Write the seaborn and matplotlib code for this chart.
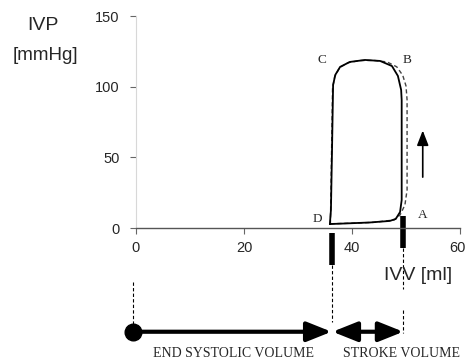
import numpy as np
import pandas as pd
import matplotlib
matplotlib.use("Agg")
import matplotlib.pyplot as plt
import matplotlib.transforms as mtransforms
import seaborn as sns

# ---- data ----
# main P-V loop (solid): volume [ml], pressure [mmHg]
loop_volume = [35.9, 38.7, 43.3, 47.0, 48.1, 48.9, 49.2, 49.2, 49.2, 49.1,
               48.5, 47.4, 45.2, 42.4, 39.6, 37.8, 36.9, 36.5, 36.3, 36.1, 35.9]
loop_pressure = [2.8, 3.2, 3.9, 5.0, 6.4, 11.3, 19.8, 55.0, 90.6, 97.7,
                 107.6, 114.6, 118.2, 118.9, 117.5, 114.0, 108.3, 101.2, 55.0, 12.7, 2.8]
# second loop (dashed)
loop2_volume = [36.0, 40.0, 44.0, 47.8, 48.9, 49.8, 50.2, 50.2, 50.0, 49.4,
                48.3, 46.5, 44.0, 41.5, 39.3, 37.7, 36.8, 36.4, 36.2, 36.0]
loop2_pressure = [3.0, 3.4, 4.0, 5.7, 9.2, 16.3, 26.9, 90.6, 100.5, 108.0,
                  114.0, 117.5, 118.6, 118.5, 117.0, 113.5, 107.0, 99.0, 50.0, 3.0]

point_labels = ["A", "B", "C", "D"]
point_volume = [53.1, 50.2, 34.4, 33.5]
point_pressure = [9.2, 118.9, 118.9, 6.4]

x_ticks = [0, 20, 40, 60]
y_ticks = [0, 50, 100, 150]

esv = 36.3          # end systolic volume [ml]
edv = 49.5          # end diastolic volume [ml]
zero_volume = -0.5

# ---- styling ----
sns.set_theme(style="white")
plt.rcParams["font.family"] = ["Liberation Sans", "DejaVu Sans"]

W, H = 466, 363
fig = plt.figure(figsize=(W / 100, H / 100), dpi=100)
ax = fig.add_axes([136 / W, 1 - 228 / H, 324 / W, 212 / H])

df1 = pd.DataFrame({"volume": loop_volume, "pressure": loop_pressure})
df2 = pd.DataFrame({"volume": loop2_volume, "pressure": loop2_pressure})
sns.lineplot(data=df2, x="volume", y="pressure", sort=False, estimator=None,
             ax=ax, color="#444444", lw=1.0, linestyle=(0, (3, 2)))
sns.lineplot(data=df1, x="volume", y="pressure", sort=False, estimator=None,
             ax=ax, color="black", lw=1.3)

ax.set_xlim(0, 60)
ax.set_ylim(0, 150)
ax.set_xticks(x_ticks)
ax.set_yticks(y_ticks)
ax.set_xlabel("")
ax.set_ylabel("")
for s in ["top", "right"]:
    ax.spines[s].set_visible(False)
ax.spines["left"].set_color("#d8d8d8")
ax.spines["left"].set_linewidth(0.8)
ax.spines["bottom"].set_color("#555555")
ax.spines["bottom"].set_linewidth(1.0)
ax.tick_params(axis="y", direction="out", length=4, width=0.8, color="#666666",
               pad=8, labelsize=10.5, left=True)
ax.tick_params(axis="x", direction="out", length=4, width=0.8, color="#666666",
               pad=5, labelsize=10.5, bottom=True)
# nudge the last x tick label so it stays inside the picture
last = ax.get_xticklabels()[-1]
last.set_transform(last.get_transform() +
                   mtransforms.ScaledTranslation(-3 / 100, 0, fig.dpi_scale_trans))

# point labels
for lab, vx, vy in zip(point_labels, point_volume, point_pressure):
    ax.text(vx, vy, lab, family="Liberation Serif", fontsize=9.5,
            ha="center", va="center")

# thick markers at ESV / EDV
ax.plot([edv, edv], [8.5, -14.2], color="black", lw=4, solid_capstyle="butt", clip_on=False)
ax.plot([esv, esv], [-3.5, -26.2], color="black", lw=4, solid_capstyle="butt", clip_on=False)

# dashed guide lines
dash = dict(color="black", lw=0.8, linestyle=(0, (3, 2)), clip_on=False)
ax.plot([zero_volume, zero_volume], [-38.2, -73.0], **dash)
ax.plot([esv, esv], [-26.2, -66.5], **dash)
ax.plot([edv, edv], [-14.2, -43.0], **dash)
ax.plot([edv, edv], [-58.0, -74.0], **dash)

# bottom arrows
y_arrow = -73.4
ax.plot([zero_volume], [y_arrow], "o", color="black", ms=12, clip_on=False)
ax.annotate("", xy=(esv - 0.1, y_arrow), xytext=(zero_volume, y_arrow),
            annotation_clip=False,
            arrowprops=dict(arrowstyle="-|>,head_length=0.75,head_width=0.3",
                            mutation_scale=20, lw=3, color="black",
                            shrinkA=0, shrinkB=0))
ax.annotate("", xy=(edv, y_arrow), xytext=(esv + 0.1, y_arrow),
            annotation_clip=False,
            arrowprops=dict(arrowstyle="<|-|>,head_length=0.75,head_width=0.3",
                            mutation_scale=20, lw=3, color="black",
                            shrinkA=0, shrinkB=0))

ax.text(18.0, -88.5, "END SYSTOLIC VOLUME", family="Liberation Serif",
        fontsize=10, ha="center", va="center")
ax.text(49.2, -88.5, "STROKE VOLUME", family="Liberation Serif",
        fontsize=10, ha="center", va="center")

# upward arrow
ax.annotate("", xy=(53.1, 69), xytext=(53.1, 36), annotation_clip=False,
            arrowprops=dict(arrowstyle="-|>,head_length=0.9,head_width=0.35",
                            mutation_scale=10, lw=1.2, color="black",
                            shrinkA=0, shrinkB=0))

# axis titles
fig.text(43 / W, 1 - 26 / H, "IVP", fontsize=14, ha="center", va="center")
fig.text(45 / W, 1 - 55 / H, "[mmHg]", fontsize=13.5, ha="center", va="center")
fig.text(418 / W, 1 - 276 / H, "IVV [ml]", fontsize=14, ha="center", va="center")

fig.savefig("out.png", dpi=100)
